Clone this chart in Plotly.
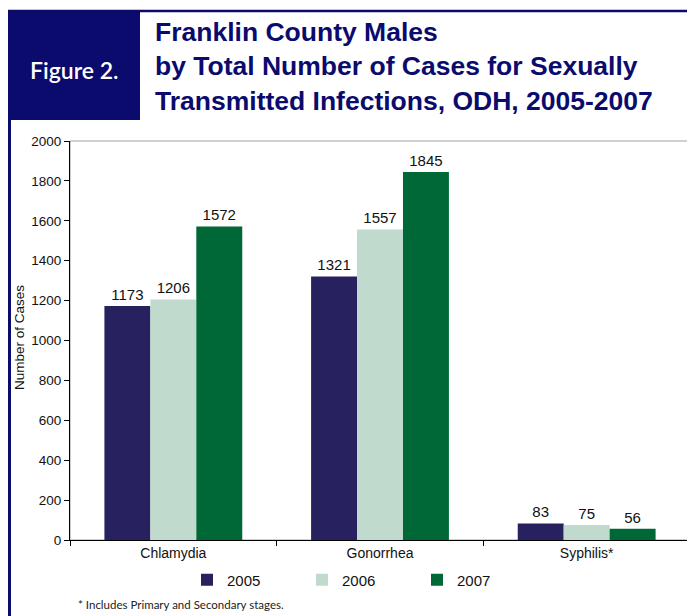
import plotly.graph_objects as go

categories = ["Chlamydia", "Gonorrhea", "Syphilis*"]
years = ["2005", "2006", "2007"]
values_2005 = [1173, 1321, 83]
values_2006 = [1206, 1557, 75]
values_2007 = [1572, 1845, 56]
colors = ["#27225f", "#c0dbcd", "#006837"]
y_ticks = [0, 200, 400, 600, 800, 1000, 1200, 1400, 1600, 1800, 2000]

# page has an 8px body margin: figure starts at page (8, 8)
OFF = 8
W, H = 695 - OFF, 616 - OFF
PL, PR, PT, PB = 70, 690, 141, 540  # plot area in page pixels
L, R, T, B = PL - OFF, W - (PR - OFF), PT - OFF, H - (PB - OFF)
pw = W - L - R
ph = H - T - B

def px(x):
    return (x - OFF - L) / pw

def py(y):
    return (H - B - (y - OFF)) / ph

NAVY = "#0b0b6e"

fig = go.Figure()
for yr, vals, col in zip(years, [values_2005, values_2006, values_2007], colors):
    fig.add_trace(go.Bar(
        name=yr, x=categories, y=vals, marker_color=col, marker_line_width=0,
        text=[str(v) for v in vals], textposition="outside",
        textfont=dict(size=15, color="#111111", family="Liberation Sans, Arial, sans-serif"),
        cliponaxis=False,
    ))

shapes = [
    dict(type="rect", xref="paper", yref="paper", x0=0, x1=1, y0=0, y1=1,
         line=dict(color="#a0a0a0", width=1), layer="below"),
    dict(type="rect", xref="paper", yref="paper", x0=px(8), x1=px(140), y0=py(120), y1=py(11),
         fillcolor=NAVY, line=dict(width=0)),
    dict(type="line", xref="paper", yref="paper", x0=px(8), x1=px(695), y0=py(11), y1=py(11),
         line=dict(color=NAVY, width=2.5)),
    dict(type="line", xref="paper", yref="paper", x0=px(9.5), x1=px(9.5), y0=py(11), y1=py(616),
         line=dict(color=NAVY, width=3)),
]

annotations = [
    dict(text="Figure 2.", xref="paper", yref="paper", x=px(74), y=py(70),
         xanchor="center", yanchor="middle", showarrow=False,
         font=dict(size=23, color="white", family="Lato, Open Sans, sans-serif", weight=600)),
    dict(text="<b>Franklin County Males<br>by Total Number of Cases for Sexually<br>Transmitted Infections, ODH, 2005-2007</b>",
         xref="paper", yref="paper", x=px(153), y=py(67), xanchor="left", yanchor="middle",
         align="left", showarrow=False,
         font=dict(size=26.5, color=NAVY, family="Liberation Sans Narrow, Arial Narrow, sans-serif")),
    dict(text="* Includes Primary and Secondary stages.", xref="paper", yref="paper",
         x=px(76), y=py(604), xanchor="left", yanchor="middle", showarrow=False,
         font=dict(size=11.5, color="#222222", family="Lato, Open Sans, sans-serif")),
    dict(text="Number of Cases", xref="paper", yref="paper", x=px(19), y=py(338),
         xanchor="center", yanchor="middle", textangle=-90, showarrow=False,
         font=dict(size=13.5, color="#111111")),
]

fig.update_layout(
    width=W, height=H,
    margin=dict(l=L, r=R, t=T, b=B),
    paper_bgcolor="white", plot_bgcolor="white",
    barmode="group", bargap=0.333, bargroupgap=0,
    font=dict(family="Liberation Sans, Arial, sans-serif", size=13, color="#111111"),
    shapes=shapes, annotations=annotations,
    showlegend=True,
    legend=dict(orientation="h", x=px(187), y=py(580), xanchor="left", yanchor="middle",
                entrywidth=70, entrywidthmode="pixels", itemwidth=30,
                font=dict(size=15, color="#111111"), bgcolor="rgba(0,0,0,0)"),
    xaxis=dict(showline=True, linecolor="black", linewidth=1, ticks="outside",
               tickson="boundaries", ticklen=5, tickcolor="black",
               tickfont=dict(size=14), showgrid=False),
    yaxis=dict(range=[0, 2000], tickvals=y_ticks, showline=True, linecolor="black",
               linewidth=1, ticks="outside", ticklen=5, tickcolor="black",
               showgrid=False, zeroline=False, tickfont=dict(size=13.5)),
)

fig.write_html("out.html")
